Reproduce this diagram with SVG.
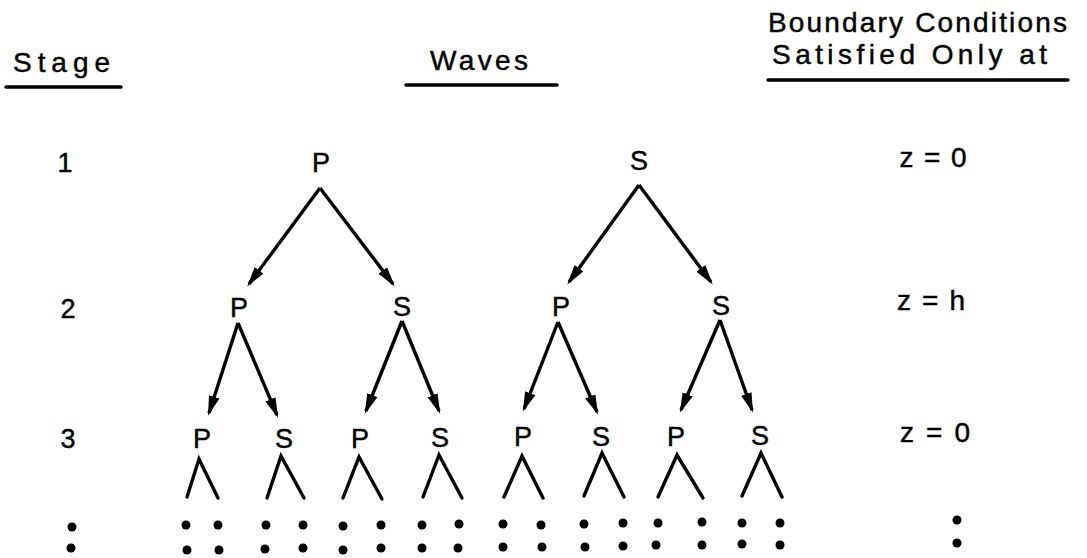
<svg xmlns="http://www.w3.org/2000/svg" width="1087" height="558" viewBox="0 0 1087 558">
<style>
  text { font-family: "Liberation Sans", Arial, sans-serif; fill: #000; stroke: #000; stroke-width: 0.45; }
  .hd { font-size: 28px; }
  .lb { font-size: 27px; text-anchor: middle; }
  .rule { stroke: #000; stroke-width: 3.5; stroke-linecap: round; fill: none; }
  .arr { stroke: #000; stroke-width: 3.4; fill: none; marker-end: url(#ah); }
  .lam { stroke: #000; stroke-width: 3.4; fill: none; stroke-linecap: round; stroke-linejoin: miter; }
  .dot { fill: #000; }
</style>
<defs>
  <marker id="ah" markerUnits="userSpaceOnUse" markerWidth="20" markerHeight="12" refX="17" refY="6" orient="auto">
    <path d="M0,0.5 L20,6 L0,11.5 z" fill="#000"/>
  </marker>
</defs>
<rect width="1087" height="558" fill="#fff"/>

<g id="header-stage">
  <text class="hd" x="13" y="72" font-size="29" textLength="97" lengthAdjust="spacing">Stage</text>
  <line class="rule" x1="6" y1="87" x2="121" y2="87"/>
</g>
<g id="header-waves">
  <text class="hd" x="430" y="70" textLength="98" lengthAdjust="spacing">Waves</text>
  <line class="rule" x1="406" y1="85" x2="557" y2="85"/>
</g>
<g id="header-bc">
  <text class="hd" x="768" y="32" textLength="299" lengthAdjust="spacing">Boundary Conditions</text>
  <text class="hd" x="772" y="64" textLength="275" lengthAdjust="spacing">Satisfied Only at</text>
  <line class="rule" x1="768" y1="80" x2="1068" y2="80"/>
</g>

<g id="stage-1"><text class="lb" x="65" y="172">1</text></g>
<g id="stage-2"><text class="lb" x="68" y="318">2</text></g>
<g id="stage-3"><text class="lb" x="68" y="448">3</text></g>
<g id="stage-more"><circle class="dot" cx="72" cy="527" r="4.5"/><circle class="dot" cx="71" cy="548" r="4.5"/></g>

<g id="bc-1"><text class="hd" x="933" y="167" text-anchor="middle" textLength="67" lengthAdjust="spacing">z = 0</text></g>
<g id="bc-2"><text class="hd" x="931" y="310" text-anchor="middle" textLength="68" lengthAdjust="spacing">z = h</text></g>
<g id="bc-3"><text class="hd" x="935" y="442" text-anchor="middle" textLength="70" lengthAdjust="spacing">z = 0</text></g>
<g id="bc-more"><circle class="dot" cx="957" cy="520" r="4.5"/><circle class="dot" cx="957" cy="543" r="4.5"/></g>

<g id="n1-P"><text class="lb" x="321" y="172">P</text></g>
<g id="n1-S"><text class="lb" x="639" y="170">S</text></g>

<g id="n2-P1"><text class="lb" x="239" y="317">P</text></g>
<g id="n2-S1"><text class="lb" x="402" y="316">S</text></g>
<g id="n2-P2"><text class="lb" x="561" y="316">P</text></g>
<g id="n2-S2"><text class="lb" x="721" y="315">S</text></g>

<g id="n3-P1"><text class="lb" x="202" y="448">P</text></g>
<g id="n3-S1"><text class="lb" x="284" y="448">S</text></g>
<g id="n3-P2"><text class="lb" x="360" y="448">P</text></g>
<g id="n3-S2"><text class="lb" x="440" y="447">S</text></g>
<g id="n3-P3"><text class="lb" x="523" y="446">P</text></g>
<g id="n3-S3"><text class="lb" x="601" y="446">S</text></g>
<g id="n3-P4"><text class="lb" x="676" y="446">P</text></g>
<g id="n3-S4"><text class="lb" x="760" y="445">S</text></g>

<g id="connectors">
  <path class="arr" d="M320,188 L249,284"/>
  <path class="arr" d="M320,188 L393,284"/>
  <path class="arr" d="M639,185 L569,282"/>
  <path class="arr" d="M639,185 L711,282"/>

  <path class="arr" d="M238,323 L209,413"/>
  <path class="arr" d="M238,323 L277,415"/>
  <path class="arr" d="M402,321 L366,411"/>
  <path class="arr" d="M402,321 L439,411"/>
  <path class="arr" d="M558,322 L524,409"/>
  <path class="arr" d="M558,322 L597,412"/>
  <path class="arr" d="M720,320 L681,410"/>
  <path class="arr" d="M720,320 L752,410"/>

  <polyline class="lam" points="187,497 199,459 218,498"/>
  <polyline class="lam" points="267,498 281,456 304,498"/>
  <polyline class="lam" points="343,498 359,457 382,499"/>
  <polyline class="lam" points="423,497 439,455 462,498"/>
  <polyline class="lam" points="504,497 522,456 543,498"/>
  <polyline class="lam" points="584,496 602,453 624,497"/>
  <polyline class="lam" points="658,497 677,455 703,498"/>
  <polyline class="lam" points="742,496 761,453 782,497"/>
</g>

<g id="continuation-dots">
  <circle class="dot" cx="186" cy="525" r="4.5"/><circle class="dot" cx="218" cy="525" r="4.5"/>
  <circle class="dot" cx="187" cy="550" r="4.5"/><circle class="dot" cx="219" cy="550" r="4.5"/>
  <circle class="dot" cx="266" cy="525" r="4.5"/><circle class="dot" cx="303" cy="525" r="4.5"/>
  <circle class="dot" cx="265" cy="549" r="4.5"/><circle class="dot" cx="303" cy="548" r="4.5"/>
  <circle class="dot" cx="343" cy="526" r="4.5"/><circle class="dot" cx="381" cy="525" r="4.5"/>
  <circle class="dot" cx="343" cy="550" r="4.5"/><circle class="dot" cx="381" cy="548" r="4.5"/>
  <circle class="dot" cx="422" cy="525" r="4.5"/><circle class="dot" cx="459" cy="524" r="4.5"/>
  <circle class="dot" cx="422" cy="548" r="4.5"/><circle class="dot" cx="458" cy="548" r="4.5"/>
  <circle class="dot" cx="503" cy="524" r="4.5"/><circle class="dot" cx="541" cy="525" r="4.5"/>
  <circle class="dot" cx="503" cy="547" r="4.5"/><circle class="dot" cx="542" cy="547" r="4.5"/>
  <circle class="dot" cx="584" cy="524" r="4.5"/><circle class="dot" cx="623" cy="523" r="4.5"/>
  <circle class="dot" cx="585" cy="547" r="4.5"/><circle class="dot" cx="623" cy="546" r="4.5"/>
  <circle class="dot" cx="658" cy="523" r="4.5"/><circle class="dot" cx="702" cy="522" r="4.5"/>
  <circle class="dot" cx="656" cy="545" r="4.5"/><circle class="dot" cx="702" cy="545" r="4.5"/>
  <circle class="dot" cx="742" cy="523" r="4.5"/><circle class="dot" cx="780" cy="523" r="4.5"/>
  <circle class="dot" cx="742" cy="544" r="4.5"/><circle class="dot" cx="780" cy="545" r="4.5"/>
</g>
</svg>
